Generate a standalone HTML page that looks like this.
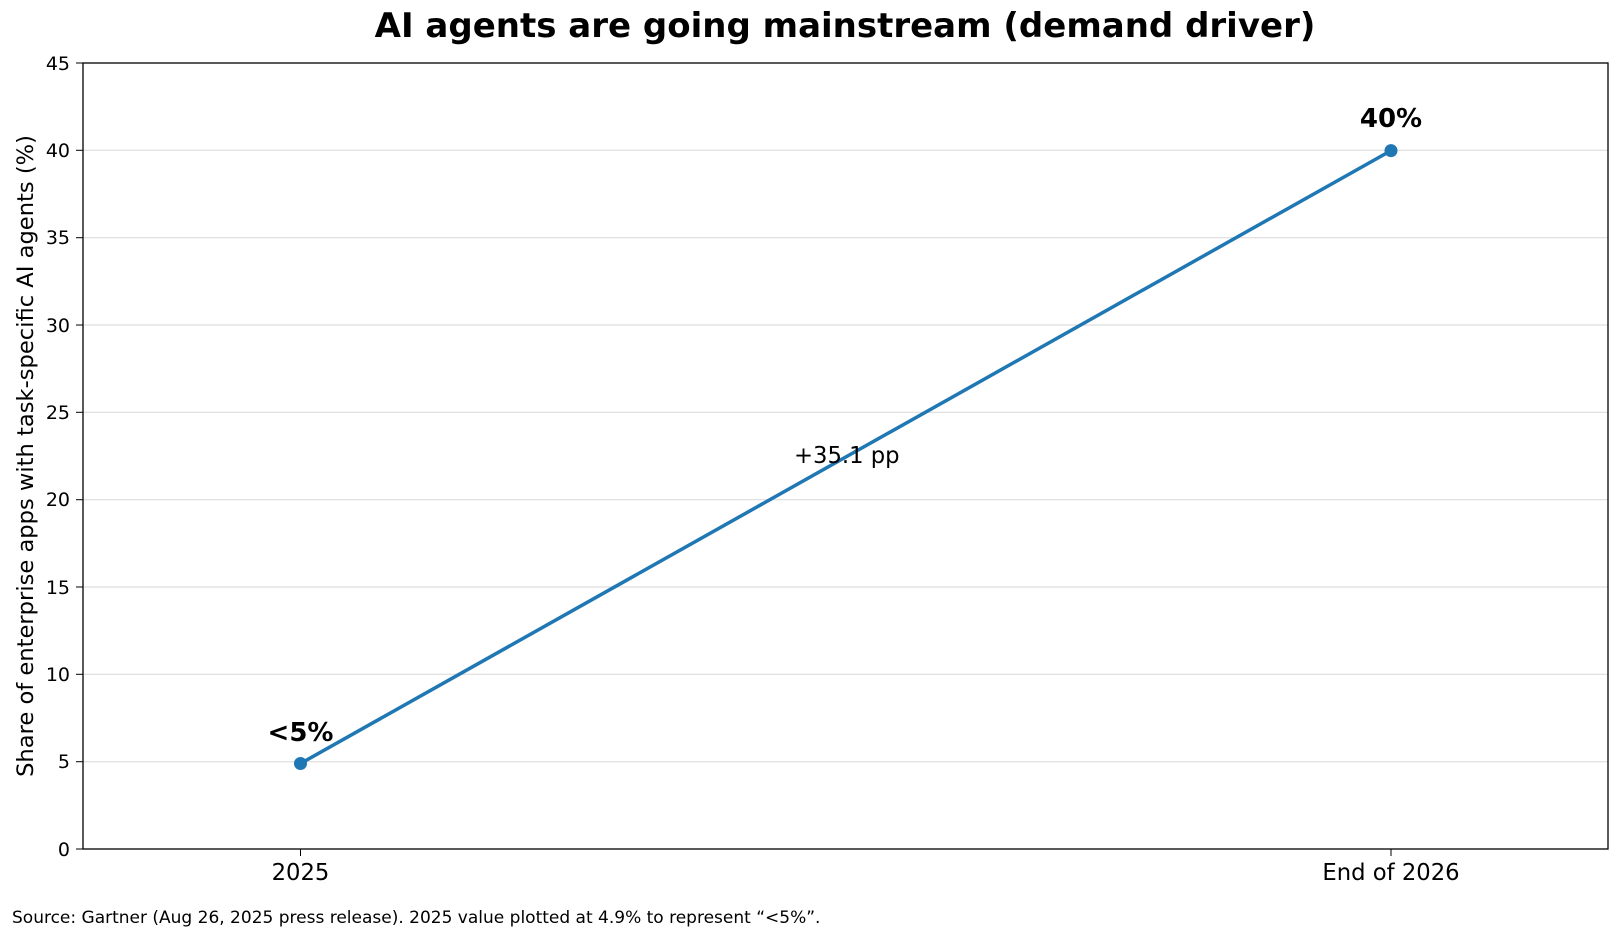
<!DOCTYPE html>
<html><head><meta charset="utf-8"><style>body{margin:0;background:#fff}</style></head>
<body>
<svg width="1619" height="939" viewBox="0 0 1619 939" xmlns="http://www.w3.org/2000/svg" font-family="'DejaVu Sans','Liberation Sans',sans-serif">
<rect width="1619" height="939" fill="#fff"/>
<text x="845" y="37" text-anchor="middle" font-size="34" font-weight="bold">AI agents are going mainstream (demand driver)</text>
<g stroke="#dddddd" stroke-width="1.2">
<line x1="83" x2="1608" y1="761.7" y2="761.7"/>
<line x1="83" x2="1608" y1="674.3" y2="674.3"/>
<line x1="83" x2="1608" y1="587" y2="587"/>
<line x1="83" x2="1608" y1="499.7" y2="499.7"/>
<line x1="83" x2="1608" y1="412.3" y2="412.3"/>
<line x1="83" x2="1608" y1="325" y2="325"/>
<line x1="83" x2="1608" y1="237.7" y2="237.7"/>
<line x1="83" x2="1608" y1="150.3" y2="150.3"/>
</g>
<rect x="83" y="63" width="1525" height="786" fill="none" stroke="#000" stroke-width="1.3"/>
<g font-size="19" text-anchor="end">
<text x="70" y="856">0</text><text x="70" y="768">5</text><text x="70" y="681">10</text><text x="70" y="594">15</text><text x="70" y="506">20</text><text x="70" y="419">25</text><text x="70" y="332">30</text><text x="70" y="244">35</text><text x="70" y="157">40</text><text x="70" y="70">45</text>
</g>
<g stroke="#000" stroke-width="1">
<line x1="76" x2="83" y1="849" y2="849"/><line x1="76" x2="83" y1="761.7" y2="761.7"/><line x1="76" x2="83" y1="674.3" y2="674.3"/><line x1="76" x2="83" y1="587" y2="587"/><line x1="76" x2="83" y1="499.7" y2="499.7"/><line x1="76" x2="83" y1="412.3" y2="412.3"/><line x1="76" x2="83" y1="325" y2="325"/><line x1="76" x2="83" y1="237.7" y2="237.7"/><line x1="76" x2="83" y1="150.3" y2="150.3"/><line x1="76" x2="83" y1="63" y2="63"/>
<line x1="300.5" x2="300.5" y1="849" y2="856"/><line x1="1391" x2="1391" y1="849" y2="856"/>
</g>
<g font-size="22.7" text-anchor="middle">
<text x="300.5" y="880">2025</text><text x="1391" y="880">End of 2026</text>
</g>
<text transform="translate(33,456) rotate(-90)" text-anchor="middle" font-size="22.6">Share of enterprise apps with task-specific AI agents (%)</text>
<line x1="300.5" y1="763.5" x2="1391" y2="150.6" stroke="#1f77b4" stroke-width="3.5"/>
<circle cx="300.5" cy="763.5" r="6.5" fill="#1f77b4"/>
<circle cx="1391" cy="150.6" r="6.5" fill="#1f77b4"/>
<text x="300.5" y="741" text-anchor="middle" font-size="26" font-weight="bold">&lt;5%</text>
<text x="1391" y="127" text-anchor="middle" font-size="26" font-weight="bold">40%</text>
<text x="794" y="463" font-size="22.7">+35.1 pp</text>
<text x="12" y="923" font-size="17">Source: Gartner (Aug 26, 2025 press release). 2025 value plotted at 4.9% to represent “&lt;5%”.</text>
</svg>
</body></html>
